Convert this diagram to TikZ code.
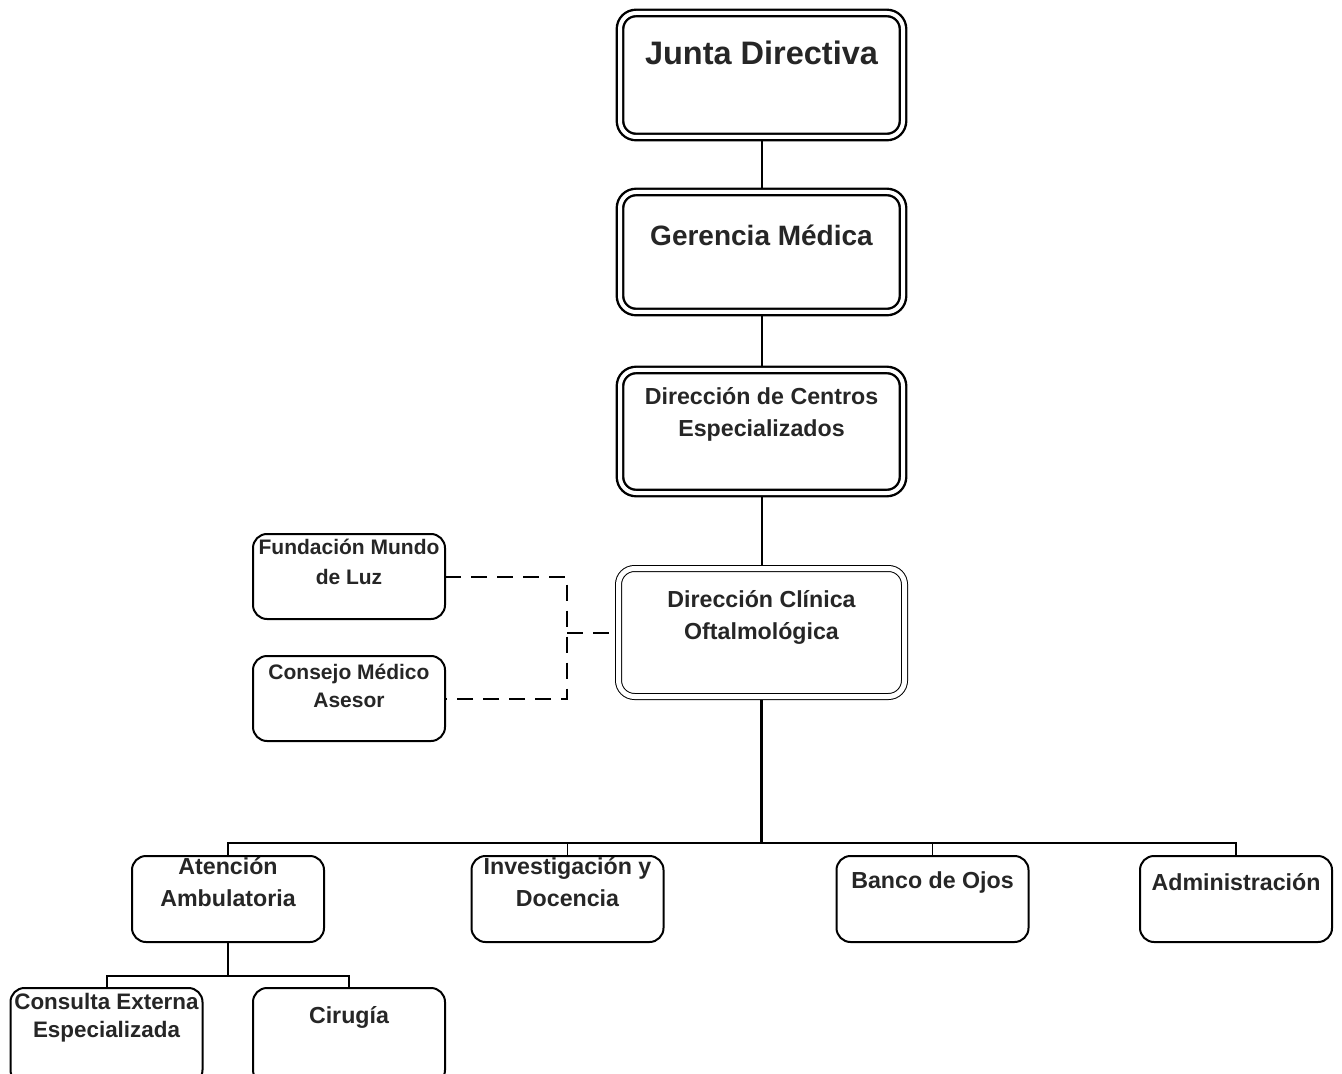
\documentclass[tikz,border=0pt]{standalone}
\usepackage{fontspec}
\setmainfont{Liberation Sans}
\usetikzlibrary{backgrounds}
\begin{document}
\begin{tikzpicture}[x=0.5pt,y=-0.5pt,
	txt/.style={font=\bfseries\fontsize{11.6}{16}\selectfont,text=black!85,align=center,inner sep=0pt},
	dbox/.style={draw=black,double=white,line width=1.2pt,double distance=2pt,fill=white,rounded corners=8pt,inner sep=0pt,outer sep=0pt,minimum width=141.5pt},
	tbox/.style={draw=black,double=white,line width=0.5pt,double distance=2.5pt,fill=white,rounded corners=8pt,inner sep=0pt,outer sep=0pt},
	sbox/.style={draw=black,line width=1pt,fill=white,rounded corners=7pt,inner sep=0pt,outer sep=0pt,minimum width=96pt},
	dashes/.style={line width=1pt,dash pattern=on 8pt off 5pt}]
	\useasboundingbox (0,0) rectangle (1342,1074);
	\clip (0,0) rectangle (1342,1074);
	% upper chain
	\node[dbox,minimum height=62pt] (jd) at (761.5,75) {};
	\node[dbox,minimum height=60pt] (gm) at (761.5,252) {};
	\node[dbox,minimum height=61.5pt] (dc) at (761.5,431.5) {};
	\node[tbox,minimum width=143pt,minimum height=64pt] (dco) at (761.5,632.5) {};
	\node[sbox,minimum height=42.5pt] (fml) at (349,576.5) {};
	\node[sbox,minimum height=42.5pt] (cma) at (349,698.5) {};
	% lower level
	\node[sbox,minimum height=43pt] (aa) at (228,899) {};
	\node[sbox,minimum height=43pt] (id) at (567.5,899) {};
	\node[sbox,minimum height=43pt] (bo) at (932.5,899) {};
	\node[sbox,minimum height=43pt] (ad) at (1236,899) {};
	\node[sbox,minimum height=48pt] (ce) at (106.5,1036) {};
	\node[sbox,minimum height=48pt] (ci) at (349,1036) {};
	\coordinate (bar) at (761.5,843);
	\coordinate (sub) at (228,976);
	\coordinate (dj) at (567,632.5);
	\begin{scope}[on background layer]
		\draw[line width=1pt] (jd) -- (gm);
		\draw[line width=1pt] (gm) -- (dc);
		\draw[line width=1pt] (dc) -- (dco);
		\draw[line width=1.4pt] (dco) -- (bar);
		\draw[line width=1pt] (aa.north) |- (bar) -| (ad.north);
		\foreach \n in {id,bo} \draw[line width=0.8pt] (\n.north) -- (\n.north |- bar);
		\draw[line width=1.2pt] (aa.south) -- (sub);
		\draw[line width=1pt] (ce.north) |- (sub) -| (ci.north);
		\draw[dashes] (fml.east) -| (dj) |- (cma.east);
		\draw[dashes] (dj) -- (dco.west);
	\end{scope}
	% texts
	\node[txt,font=\bfseries\fontsize{16.25}{20}\selectfont] (jdt) at (761.5,53) {Junta Directiva};
	\node[txt,font=\bfseries\fontsize{14}{18}\selectfont] (gmt) at (761.5,235) {Gerencia Médica};
	\node[txt] (dct) at (761.5,414.5) {Dirección de Centros\\Especializados};
	\node[txt] (dcot) at (761.5,617) {Dirección Clínica\\Oftalmológica};
	\node[txt,font=\bfseries\fontsize{10.5}{15}\selectfont] (fmlt) at (349,562) {Fundación Mundo\\de Luz};
	\node[txt,font=\bfseries\fontsize{10.5}{14}\selectfont] (cmat) at (349,686) {Consejo Médico\\Asesor};
	\node[txt] (aat) at (228,882.5) {Atención\\Ambulatoria};
	\node[txt] (idt) at (567.5,882.5) {Investigación y\\Docencia};
	\node[txt] (bot) at (932.5,882) {Banco de Ojos};
	\node[txt] (adt) at (1236,882) {Administración};
	\node[txt,font=\bfseries\fontsize{11.2}{14}\selectfont] (cet) at (106.5,1018) {Consulta Externa\\Especializada};
	\node[txt] (cit) at (349,1017) {Cirugía};
\end{tikzpicture}
\end{document}
